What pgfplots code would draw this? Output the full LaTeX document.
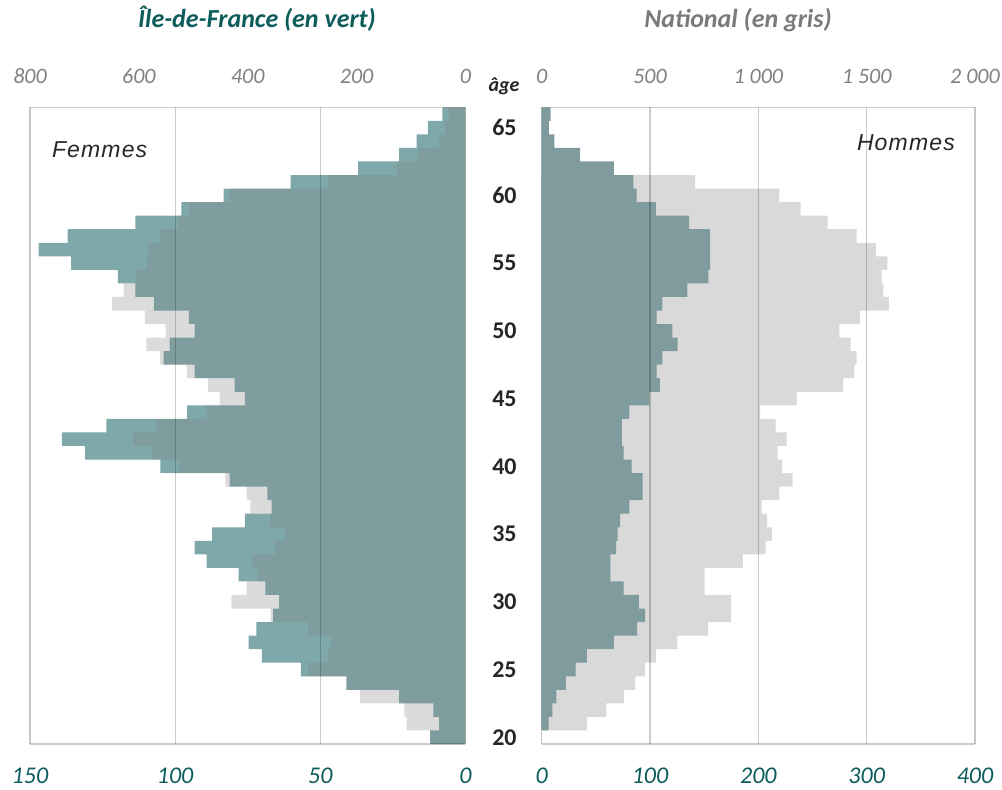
\documentclass[border=0pt]{standalone}
\usepackage{fontspec}
\setmainfont{Carlito}
\newfontfamily\sexfont[LetterSpace=5]{Liberation Sans}
\usepackage{pgfplots}
\pgfplotsset{compat=1.18}
\usepackage{pgfplotstable}
\definecolor{tealL}{RGB}{127,168,170}
\definecolor{natL}{RGB}{127,127,127}
\definecolor{natR}{RGB}{217,217,217}
\definecolor{darkR}{RGB}{127,155,157}
\definecolor{titleteal}{RGB}{12,92,92}
\definecolor{labgray}{RGB}{128,128,128}

\pgfplotstableread{
age idf
66 8.0
65 13.0
64 16.8
63 22.9
62 37.0
61 60.2
60 83.3
59 97.9
58 113.7
57 137
56 147
55 135.8
54 119.7
53 113.7
52 107.3
51 95.3
50 93.3
49 101.9
48 104
47 93.3
46 79.5
45 76.0
44 95.9
43 123.7
42 139
41 131
40 105.1
39 81.2
38 68.2
37 66.8
36 76
35 87.3
34 93.3
33 89.2
32 78.1
31 68.9
30 64.2
29 66.3
28 72
27 74.7
26 70.1
25 56.7
24 41
23 22.9
22 11.1
21 9.1
20 12.2
}\femidf

\pgfplotstableread{
age nat
66 30.7
65 37.7
64 48
63 87
62 126
61 253
60 433
59 508
58 528
57 560
56 582
55 585
54 604
53 628
52 649
51 589
50 551
49 586
48 561
47 512
46 473
45 451
44 476
43 568
42 611
41 575
40 526
39 441
38 402
37 395
36 359
35 332
34 350
33 391
32 382
31 402
30 430
29 358
28 289
27 247
26 253
25 289
24 218
23 194
22 112.5
21 108
20 65
}\femnat

\pgfplotstableread{
age idf
66 8.3
65 6.7
64 11.6
63 35.4
62 66.7
61 84.6
60 87.7
59 105.5
58 136
57 155.4
56 155.4
55 155.4
54 153.8
53 134.4
52 111.3
51 106.2
50 120.6
49 125.5
48 111.3
47 106.2
46 109.2
45 99.3
44 80.9
43 74.1
42 74.1
41 75.7
40 83.1
39 93.2
38 93.2
37 80.9
36 72.4
35 70.2
34 68.6
33 63.4
32 63.4
31 75.7
30 89.8
29 95.4
28 88
27 66.7
26 41.8
25 31.4
24 22.4
23 13.5
22 9.8
21 6.5
}\homidf

\pgfplotstableread{
age nat
61 708
60 1097
59 1195
58 1320
57 1454
56 1542
55 1595
54 1569
53 1577
52 1603
51 1469
50 1374
49 1426
48 1454
47 1443
46 1391
45 1177
44 1008
43 1080
42 1131
41 1089
40 1108
39 1158
38 1097
37 1015
36 1041
35 1062
34 1034
33 928
32 752
31 752
30 874
29 874
28 768
27 626
26 528
25 477
24 431
23 379
22 298
21 209
}\homnat

\pgfplotsset{
 pyr/.style={scale only axis, width=#1, height=318.35pt, anchor=south west,
   ymin=19.5, ymax=66.5, xbar, bar width=1, bar shift=0pt,
   ytick=\empty, axis line style={draw=none}, tick style={draw=none},
   major tick length=0pt},
 toplabs/.style={xticklabel pos=upper,
   xticklabel style={font=\fontsize{11}{13}\selectfont\itshape, text=labgray,
     anchor=base, yshift=11.75pt, inner sep=0pt}},
 botlabs/.style={xticklabel pos=lower,
   xticklabel style={font=\fontsize{12}{14}\selectfont\itshape, text=titleteal,
     anchor=base, yshift=-19.5pt, inner sep=0pt}},
 gridframe/.style={axis on top, separate axis lines,
   extra x tick style={grid=major, xticklabels={}},
   grid style={black, opacity=0.2, line width=0.6pt},
   x axis line style={draw=black, opacity=0.2, line width=0.6pt},
   y axis line style={draw=black, opacity=0.22, line width=0.6pt}}
}

\begin{document}
\begin{tikzpicture}
\path[use as bounding box] (0pt,0pt) rectangle (501pt,394.5pt);

% ---- Left panel: Femmes ----
\begin{axis}[pyr=217.75pt, at={(15pt,22.5pt)}, x dir=reverse,
  xmin=0, xmax=150, xtick=\empty]
\addplot[fill=tealL, draw=none] table[x=idf, y=age] {\femidf};
\end{axis}

\begin{axis}[pyr=217.75pt, at={(15pt,22.5pt)}, x dir=reverse,
  xmin=0, xmax=800, xtick={0,200,400,600,800},
  xticklabels={0,200,400,600,800}, toplabs]
\addplot[fill=natL, fill opacity=0.28, draw=none] table[x=nat, y=age] {\femnat};
\end{axis}

\begin{axis}[pyr=217.75pt, at={(15pt,22.5pt)}, x dir=reverse,
  xmin=0, xmax=150, xtick={0,50,100,150},
  xticklabels={0,50,100,150}, botlabs, gridframe,
  extra x ticks={50,100}]
\end{axis}

% ---- Right panel: Hommes ----
\begin{axis}[pyr=216.65pt, at={(270.85pt,22.5pt)},
  xmin=0, xmax=2000, xtick={0,500,1000,1500,2000},
  xticklabels={0,500,1 000,1 500,2 000}, toplabs]
\addplot[fill=natR, draw=none] table[x=nat, y=age] {\homnat};
\end{axis}

\begin{axis}[pyr=216.65pt, at={(270.85pt,22.5pt)},
  xmin=0, xmax=400, xtick={0,100,200,300,400},
  xticklabels={0,100,200,300,400}, botlabs, gridframe,
  extra x ticks={100,200,300},
  ytick={20,25,30,35,40,45,50,55,60,65},
  yticklabels={20,25,30,35,40,45,50,55,60,65},
  yticklabel style={font=\fontsize{12}{14}\selectfont\bfseries, text=black!85,
    anchor=east, inner sep=0pt, xshift=-12.35pt}]
\addplot[fill=darkR, draw=none] table[x=idf, y=age] {\homidf};
\end{axis}

% ---- Texts ----
\node[anchor=base, inner sep=0pt, font=\fontsize{13}{15}\selectfont\bfseries\itshape,
  text=titleteal] at (128.5pt,380.7pt) {Île-de-France (en vert)};
\node[anchor=base, inner sep=0pt, font=\fontsize{13}{15}\selectfont\bfseries\itshape,
  text=black!52] at (369pt,380.7pt) {National (en gris)};
\node[anchor=base, inner sep=0pt, font=\fontsize{10}{12}\selectfont\bfseries\itshape,
  text=black!85] at (252pt,348.5pt) {âge};
\node[anchor=base west, inner sep=0pt, font=\sexfont\itshape\fontsize{11.5}{13}\selectfont,
  text=black!85] at (25.8pt,316pt) {Femmes};
\node[anchor=base west, inner sep=0pt, font=\sexfont\itshape\fontsize{11.5}{13}\selectfont,
  text=black!85] at (428.3pt,319.2pt) {Hommes};
\end{tikzpicture}
\end{document}
